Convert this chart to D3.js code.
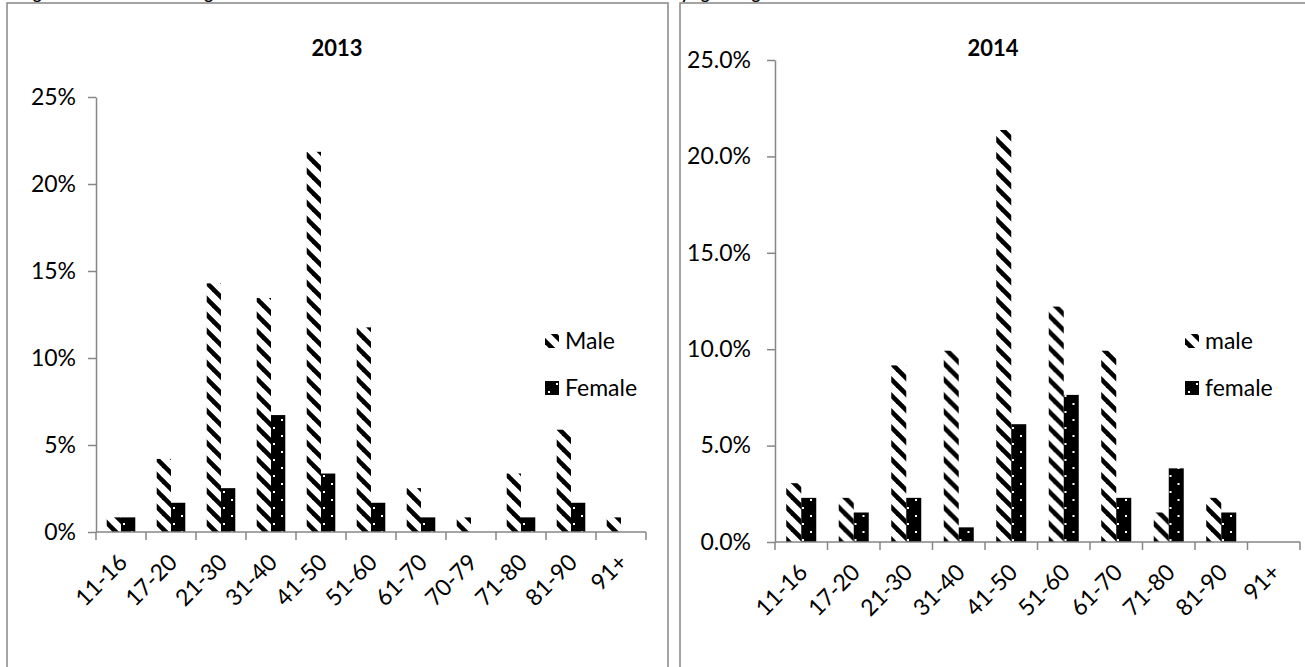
<!DOCTYPE html>
<html>
<head>
<meta charset="utf-8">
<script src="https://cdn.jsdelivr.net/npm/d3@7"></script>
<style>
  html, body { margin: 0; padding: 0; background: #fff; }
  svg { display: block; font-family: Lato, "Open Sans", sans-serif; }
</style>
</head>
<body>
<svg id="chart" width="1305" height="667"></svg>
<script>
// Age groups and shares of patients (%) by gender
const ages2013 = ["11-16","17-20","21-30","31-40","41-50","51-60","61-70","70-79","71-80","81-90","91+"];
const male2013 = [0.84, 4.20, 14.29, 13.45, 21.85, 11.76, 2.52, 0.84, 3.36, 5.88, 0.84];
const female2013 = [0.84, 1.68, 2.52, 6.72, 3.36, 1.68, 0.84, 0, 0.84, 1.68, 0];
const yTicks2013 = [0, 5, 10, 15, 20, 25];
const yLabels2013 = ["0%", "5%", "10%", "15%", "20%", "25%"];
const legend2013 = ["Male", "Female"];

const ages2014 = ["11-16","17-20","21-30","31-40","41-50","51-60","61-70","71-80","81-90","91+"];
const male2014 = [3.05, 2.29, 9.16, 9.92, 21.37, 12.21, 9.92, 1.53, 2.29, 0];
const female2014 = [2.29, 1.53, 2.29, 0.76, 6.11, 7.63, 2.29, 3.82, 1.53, 0];
const yTicks2014 = [0, 5, 10, 15, 20, 25];
const yLabels2014 = ["0.0%", "5.0%", "10.0%", "15.0%", "20.0%", "25.0%"];
const legend2014 = ["male", "female"];

const GRAY = "#868686";
const svg = d3.select("#chart");
const defs = svg.append("defs");

// wide downward diagonal hatch
const hatch = defs.append("pattern")
  .attr("id", "hatch").attr("patternUnits", "userSpaceOnUse")
  .attr("width", 16).attr("height", 16);
hatch.append("rect").attr("width", 16).attr("height", 16).attr("fill", "#fff");
[[0, 0, 16, 16], [-8, 8, 8, 24], [8, -8, 24, 8]].forEach(([a, b, c, d]) =>
  hatch.append("line").attr("x1", a).attr("y1", b).attr("x2", c).attr("y2", d)
    .attr("stroke", "#000").attr("stroke-width", 4.6));

// black with sparse white dots
const dots = defs.append("pattern")
  .attr("id", "dots").attr("patternUnits", "userSpaceOnUse")
  .attr("width", 16).attr("height", 16);
dots.append("rect").attr("width", 16).attr("height", 16).attr("fill", "#000");
[[3, 3], [11, 11]].forEach(([x, y]) =>
  dots.append("rect").attr("x", x).attr("y", y).attr("width", 2).attr("height", 2).attr("fill", "#fff"));

// document caption above the panels (mostly above the page edge)
const cap = svg.append("text")
  .attr("x", 20).attr("y", -1)
  .attr("font-weight", "bold").attr("font-size", 16).attr("fill", "#000");
cap.append("tspan").text("Figure 3: Distribution of Age of Patients in 2013 and 2014");
cap.append("tspan").attr("x", 672).text("by age and gender");

function panel(cfg) {
  const g = svg.append("g");

  // panel frame
  g.append("rect")
    .attr("x", cfg.frame[0]).attr("y", cfg.frame[1])
    .attr("width", cfg.frame[2]).attr("height", cfg.frame[3])
    .attr("fill", "#fff").attr("stroke", GRAY).attr("stroke-width", 1.5);

  const x0 = d3.scaleBand().domain(cfg.ages).range([cfg.left, cfg.right]).paddingInner(0).paddingOuter(0);
  const x1 = d3.scaleBand().domain(["m", "f"]).range([0, x0.bandwidth()]).paddingInner(0).paddingOuter(0.75);
  const y = d3.scaleLinear().domain([0, 25]).range([cfg.bottom, cfg.top]);

  // bars
  const rows = cfg.ages.map((a, i) => ({ age: a, m: cfg.male[i], f: cfg.female[i] }));
  const grp = g.append("g").selectAll("g").data(rows).join("g")
    .attr("transform", d => `translate(${x0(d.age)},0)`);
  grp.append("rect")
    .attr("x", x1("m")).attr("width", x1.bandwidth())
    .attr("y", d => y(d.m)).attr("height", d => y(0) - y(d.m))
    .attr("fill", "url(#hatch)");
  grp.append("rect")
    .attr("x", x1("f")).attr("width", x1.bandwidth())
    .attr("y", d => y(d.f)).attr("height", d => y(0) - y(d.f))
    .attr("fill", "url(#dots)");

  // y axis
  const yAxis = d3.axisLeft(y).tickValues(cfg.yTicks)
    .tickFormat((d, i) => cfg.yLabels[i]).tickSize(8).tickSizeOuter(0).tickPadding(cfg.yPad);
  const ya = g.append("g").attr("transform", `translate(${cfg.left},0)`).call(yAxis);
  ya.select(".domain").attr("stroke", GRAY).attr("stroke-width", 1.5);
  ya.selectAll(".tick line").attr("stroke", GRAY).attr("stroke-width", 1.5);
  ya.selectAll(".tick text").attr("font-size", 23).attr("fill", "#000").attr("font-family", "Lato, sans-serif");

  // x axis: baseline, boundary ticks, rotated labels
  const xa = g.append("g");
  xa.append("line")
    .attr("x1", cfg.left).attr("x2", cfg.right)
    .attr("y1", y(0)).attr("y2", y(0))
    .attr("stroke", GRAY).attr("stroke-width", 1.5);
  const bounds = cfg.ages.map(a => x0(a)).concat([x0.range()[1]]);
  xa.selectAll("line.tk").data(bounds).join("line").attr("class", "tk")
    .attr("x1", d => d).attr("x2", d => d)
    .attr("y1", y(0)).attr("y2", y(0) + 8)
    .attr("stroke", GRAY).attr("stroke-width", 1.5);
  xa.selectAll("text").data(cfg.ages).join("text")
    .attr("transform", d => `translate(${x0(d) + x0.bandwidth() / 2 - 4},${y(0) + 20}) rotate(-45)`)
    .attr("text-anchor", "end").attr("dy", "0.72em")
    .attr("font-size", 23).attr("fill", "#000")
    .text(d => d);

  // title
  g.append("text")
    .attr("x", cfg.titleX).attr("y", cfg.titleY)
    .attr("text-anchor", "middle").attr("font-weight", "bold").attr("font-size", 22)
    .text(cfg.title);

  // legend
  const lg = g.append("g").attr("transform", `translate(${cfg.legendX},${cfg.legendY})`);
  const items = lg.selectAll("g").data(cfg.legend).join("g")
    .attr("transform", (d, i) => `translate(0,${i * 47})`);
  items.append("rect")
    .attr("x", 0).attr("y", -7).attr("width", 14).attr("height", 14)
    .attr("fill", (d, i) => i === 0 ? "url(#hatch)" : "url(#dots)");
  items.append("text")
    .attr("x", 20).attr("y", 0).attr("dy", "0.35em")
    .attr("font-size", 23).attr("fill", "#000")
    .text(d => d);
}

panel({
  frame: [7, 3, 661, 720],
  ages: ages2013, male: male2013, female: female2013,
  yTicks: yTicks2013, yLabels: yLabels2013, legend: legend2013,
  left: 96, right: 646, top: 97, bottom: 532, yPad: 12,
  title: "2013", titleX: 337, titleY: 56,
  legendX: 545, legendY: 341
});

panel({
  frame: [680, 3, 640, 720],
  ages: ages2014, male: male2014, female: female2014,
  yTicks: yTicks2014, yLabels: yLabels2014, legend: legend2014,
  left: 775, right: 1300, top: 60, bottom: 542, yPad: 16,
  title: "2014", titleX: 993, titleY: 56,
  legendX: 1185, legendY: 341
});
</script>
</body>
</html>
